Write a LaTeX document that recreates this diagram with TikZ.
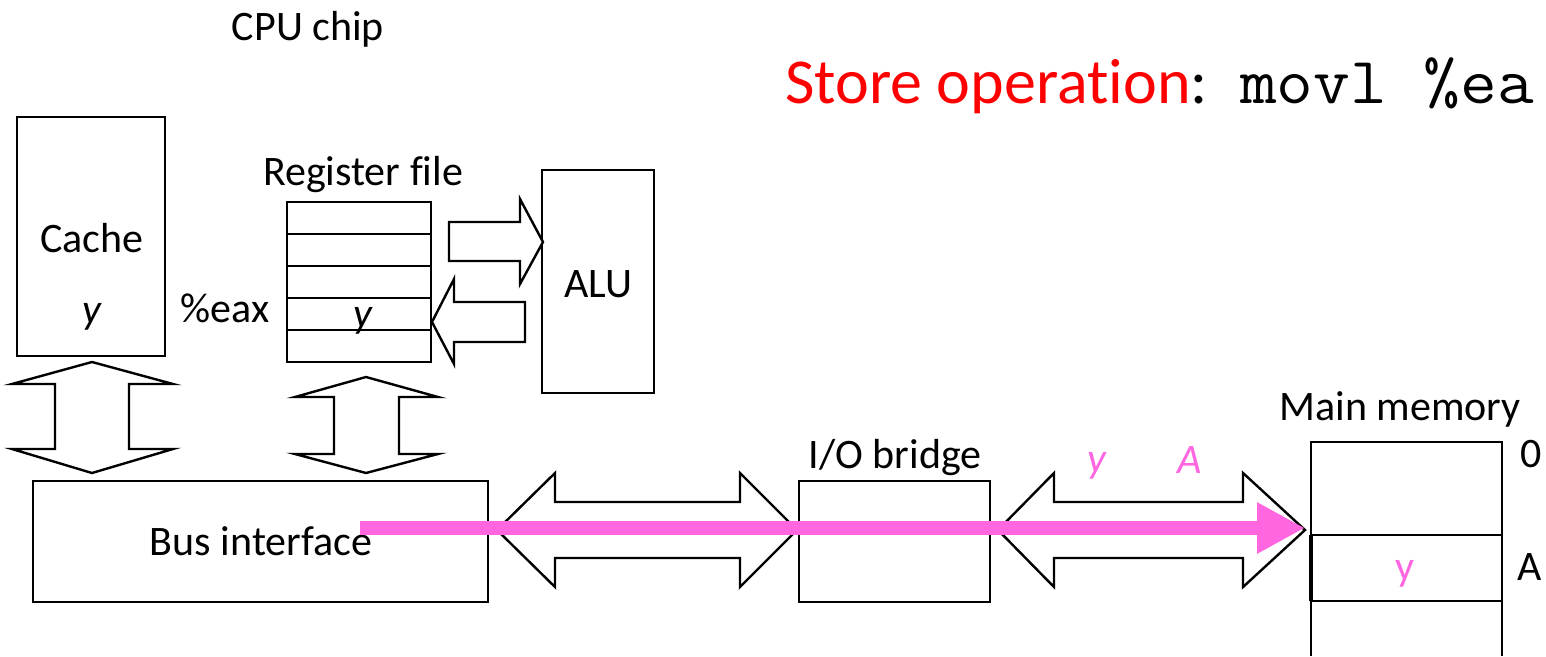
\documentclass[tikz,border=0pt]{standalone}
\usepackage{fontspec}
\usepackage{graphicx}
\setmainfont[Ligatures=NoCommon]{Carlito}
\usetikzlibrary{arrows.meta}
\definecolor{pinkc}{RGB}{255,102,224}
\definecolor{redc}{RGB}{255,0,0}
\begin{document}
\begin{tikzpicture}[x=1pt,y=-1pt,
  box/.style={draw, line width=2.4pt, fill=white, inner sep=0pt, outer sep=0pt, anchor=north west},
  blk/.style={draw, line width=2.4pt, fill=white, line join=miter},
  lbl/.style={font=\fontsize{42}{50}\selectfont, inner sep=0pt, anchor=base},
  big/.style={font=\fontsize{64}{70}\selectfont, inner sep=0pt, anchor=base west},
  pinkarrow/.style={draw=pinkc, line width=14pt, -{Triangle[length=48pt,width=48pt]}}
]
\useasboundingbox (0,0) rectangle (1546,656);

% boxes
\node[box, minimum width=148pt, minimum height=239pt] (cache) at (17,117) {};
\node[box, minimum width=144pt, minimum height=160pt] (reg) at (287,202) {};
\foreach \yy in {234,266,298,330} \draw[line width=2.4pt] (287,\yy) -- (431,\yy);
\node[box, minimum width=112pt, minimum height=223pt] (alu) at (542,170) {};
\node[box, minimum width=455pt, minimum height=121pt] (bus) at (33,481) {};
\node[box, minimum width=191pt, minimum height=121pt] (bridge) at (799,481) {};
\node[box, draw=none, fill=none, minimum width=191pt, minimum height=93pt] (mem) at (1311,442) {};
\draw[line width=2.4pt] (1311,656) -- (1311,442) -- (1502,442) -- (1502,656);
\draw[line width=2.4pt] (1311,535) -- (1502,535);
\draw[line width=2.4pt] (1311,601) -- (1502,601);
\draw[line width=4.5pt] (1311,535) -- (1311,601);

% block arrows
\draw[blk] (92,362) -- (173,384) -- (129,384) -- (129,449) -- (173,449) -- (92,473)
  -- (12,449) -- (55,449) -- (55,384) -- (12,384) -- cycle;
\draw[blk] (366,377) -- (438,397) -- (399,397) -- (399,454) -- (438,454) -- (366,473)
  -- (295,454) -- (334,454) -- (334,397) -- (295,397) -- cycle;
\draw[blk] (449,222) -- (520,222) -- (520,199) -- (543,242) -- (520,284) -- (520,261)
  -- (449,261) -- cycle;
\draw[blk] (432,322) -- (454,279) -- (454,302) -- (525,302) -- (525,342) -- (454,342)
  -- (454,364) -- cycle;
\draw[blk] (497,530) -- (555,473) -- (555,502) -- (740,502) -- (740,473) -- (797,530)
  -- (740,587) -- (740,558) -- (555,558) -- (555,587) -- cycle;
\draw[blk] (998,530) -- (1054,473) -- (1054,502) -- (1243,502) -- (1243,473) -- (1305,530)
  -- (1243,587) -- (1243,558) -- (1054,558) -- (1054,587) -- cycle;

% labels
\node[lbl] (cpu) at (308,40) {CPU chip};
\node[lbl] (cachel) at (92,252) {Cache};
\node[lbl] (cachey) at (92,323) {\itshape y};
\node[lbl] (eax) at (225,322) {\%eax};
\node[lbl] (regl) at (363,185) {Register file};
\node[lbl] (regy) at (363,327) {\itshape y};
\node[lbl] (alul) at (598,297) {ALU};
\node[lbl] (busl) at (261,555) {Bus interface};
\node[lbl] (bridgel) at (895,468) {I/O bridge};
\node[lbl] (meml) at (1400,420) {Main memory};
\node[lbl] (zero) at (1531,467) {0};
\node[lbl] (addrA) at (1530,580) {A};
\node[lbl, text=pinkc] (memy) at (1405,580) {y};
\node[lbl, text=pinkc] (py) at (1097,472) {\itshape y};
\node[lbl, text=pinkc] (pA) at (1190,473) {\itshape A};

% pink data path
\coordinate (pstart) at (360,528);
\coordinate (pend) at (1305,528);
\draw[pinkarrow] (pstart) -- (pend);

% title
\node[big] (title) at (785,103) {\textcolor{redc}{Store operation}:};
\node[big, font=\ttfamily\fontsize{66}{70}\selectfont] (code) at (1240,103) {\scalebox{1.08}[1]{movl \%ea}};
\end{tikzpicture}
\end{document}
